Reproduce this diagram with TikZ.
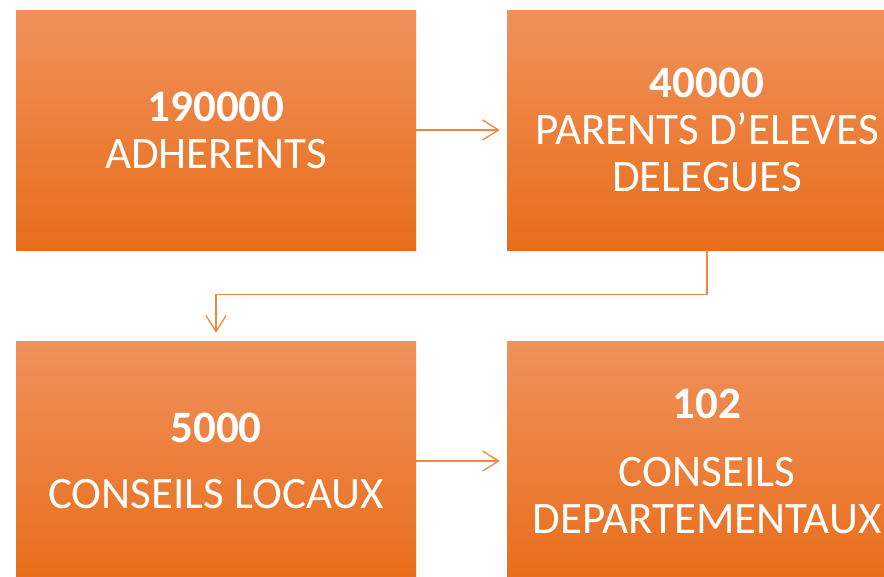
\documentclass[tikz,border=0pt]{standalone}
\usepackage{fontspec}
\setmainfont{Carlito}
\usepackage{xcolor}
\usetikzlibrary{arrows.meta}
\definecolor{boxtop}{HTML}{F0915B}
\definecolor{boxmid}{HTML}{F5822C}
\definecolor{boxbot}{HTML}{E86D1A}
\definecolor{linkorange}{HTML}{F0873A}

\begin{document}
\begin{tikzpicture}[x=1pt, y=-1pt,
	box/.style={minimum width=400pt, minimum height=240pt, inner sep=0pt,
		top color=boxtop, middle color=boxmid, bottom color=boxbot,
		text=white, align=center, font=\fontsize{45}{47}\selectfont},
	conn/.style={draw=linkorange, line width=1.3pt,
		-{Straight Barb[length=16pt, width=20pt, line width=1.3pt]}}]
	\useasboundingbox (0,0) rectangle (884,576);
	\clip (0,0) rectangle (884,576);
	\node[box] (adherents) at (216,130) {\textbf{190000}\\ADHERENTS};
	\node[box] (delegues) at (707,130) {\textbf{40000}\\PARENTS D’ELEVES\\DELEGUES};
	\node[box] (locaux) at (216,461) {\textbf{5000}\\[19pt]CONSEILS LOCAUX};
	\node[box] (departementaux) at (707,461) {\textbf{102}\\[21pt]CONSEILS\\DEPARTEMENTAUX};
	% connectors
	\draw[conn, shorten >=7pt] (adherents) -- (delegues);
	\draw[conn, shorten >=8pt] (delegues.south) -- ++(0,44) -| (locaux.north);
	\draw[conn, shorten >=7pt] (locaux) -- (departementaux);
\end{tikzpicture}
\end{document}
